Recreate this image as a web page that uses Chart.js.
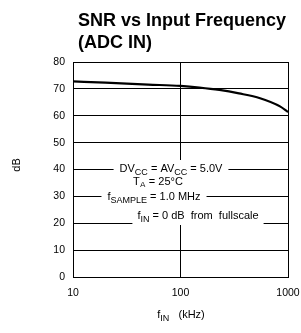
<!DOCTYPE html>
<html lang="en">
<head>
<meta charset="UTF-8">
<title>SNR vs Input Frequency</title>
<style>
  html, body { margin: 0; padding: 0; background: #fff; }
  #wrap { width: 301px; height: 333px; }
</style>
</head>
<body>
<div id="wrap"><canvas id="myChart" width="301" height="333"></canvas></div>
<script src="https://cdn.jsdelivr.net/npm/chart.js@4.4.0/dist/chart.umd.min.js"></script>
<script>
// data
const freqKHz = [10, 20, 50, 100, 150, 230, 350, 550, 850, 1000]
const snrDb = [72.8, 72.3, 71.6, 71.1, 70.5, 69.6, 68.3, 66.5, 63.4, 61.4]
const xTicks = [10, 100, 1000]
const titleLines = ['SNR vs Input Frequency', '(ADC IN)']
// conditions box, each line split into [text, subscript?]
const noteLines = [
  [['DV', 0], ['CC', 1], [' = AV', 0], ['CC', 1], [' = 5.0V', 0]],
  [['T', 0], ['A', 1], [' = 25°C', 0]],
  [['f', 0], ['SAMPLE', 1], [' = 1.0 MHz', 0]],
  [['f', 0], ['IN', 1], [' = 0 dB  from  fullscale', 0]]
]

const FONT = '"Liberation Sans", Arial, sans-serif'

function drawSub(c, parts, x, y, align, bg) {
  // measure
  let w = 0
  parts.forEach(p => {
    c.font = (p[1] ? '9px ' : '11px ') + FONT
    w += c.measureText(p[0]).width
  })
  let sx = align === 'center' ? x - w / 2 : x
  if (bg) {
    c.fillStyle = '#fff'
    c.fillRect(sx - bg[0], y - bg[1], w + bg[0] * 2, bg[2])
  }
  c.fillStyle = '#000'
  c.textBaseline = 'alphabetic'
  c.textAlign = 'left'
  parts.forEach(p => {
    c.font = (p[1] ? '9px ' : '11px ') + FONT
    c.fillText(p[0], sx, p[1] ? y + 3 : y)
    sx += c.measureText(p[0]).width
  })
}

const textPlugin = {
  id: 'texts',
  afterDraw(chart) {
    const c = chart.ctx
    c.save()
    // title
    c.fillStyle = '#000'
    c.font = 'bold 18px ' + FONT
    c.textAlign = 'left'
    c.textBaseline = 'alphabetic'
    c.fillText(titleLines[0], 78, 26)
    c.fillText(titleLines[1], 78, 48)
    // y axis label
    c.save()
    c.translate(17, 165)
    c.rotate(-Math.PI / 2)
    c.font = '11px ' + FONT
    c.textAlign = 'center'
    c.textBaseline = 'middle'
    c.fillText('dB', 0, 0)
    c.restore()
    // x axis label
    drawSub(c, [['f', 0], ['IN', 1], ['   (kHz)', 0]], 181, 318, 'center')
    // conditions
    drawSub(c, noteLines[0], 171, 172, 'center', [6, 12, 17])
    drawSub(c, noteLines[1], 158, 185, 'center', [6, 8, 17])
    drawSub(c, noteLines[2], 154, 200, 'center', [6, 13, 20])
    drawSub(c, noteLines[3], 198, 219, 'center', [5, 13, 19])
    c.restore()
  }
}

new Chart(document.getElementById('myChart'), {
  type: 'line',
  data: {
    datasets: [{
      data: freqKHz.map((f, i) => ({ x: f, y: snrDb[i] })),
      borderColor: '#000',
      borderWidth: 2.2,
      pointRadius: 0,
      fill: false,
      cubicInterpolationMode: 'monotone'
    }]
  },
  options: {
    responsive: false,
    animation: false,
    layout: { padding: { top: 62, right: 13, left: 0, bottom: 0 } },
    plugins: { legend: { display: false }, tooltip: { enabled: false } },
    scales: {
      x: {
        type: 'logarithmic',
        min: 10,
        max: 1000,
        afterBuildTicks: s => { s.ticks = xTicks.map(v => ({ value: v })) },
        afterFit: s => {
          s.height = 56
          s.paddingLeft = 0
          s.paddingRight = 0
        },
        grid: { color: '#000', lineWidth: 1, drawTicks: false },
        border: { color: '#000', width: 1 },
        ticks: {
          color: '#000',
          font: { family: FONT, size: 10.5 },
          padding: 10,
          maxRotation: 0,
          callback: v => String(v)
        }
      },
      y: {
        min: 0,
        max: 80,
        afterFit: s => { s.width = 73 },
        grid: { color: '#000', lineWidth: 1, drawTicks: false },
        border: { color: '#000', width: 1 },
        ticks: {
          stepSize: 10,
          color: '#000',
          font: { family: FONT, size: 10.5 },
          padding: 8
        }
      }
    }
  },
  plugins: [textPlugin]
})
</script>
</body>
</html>
